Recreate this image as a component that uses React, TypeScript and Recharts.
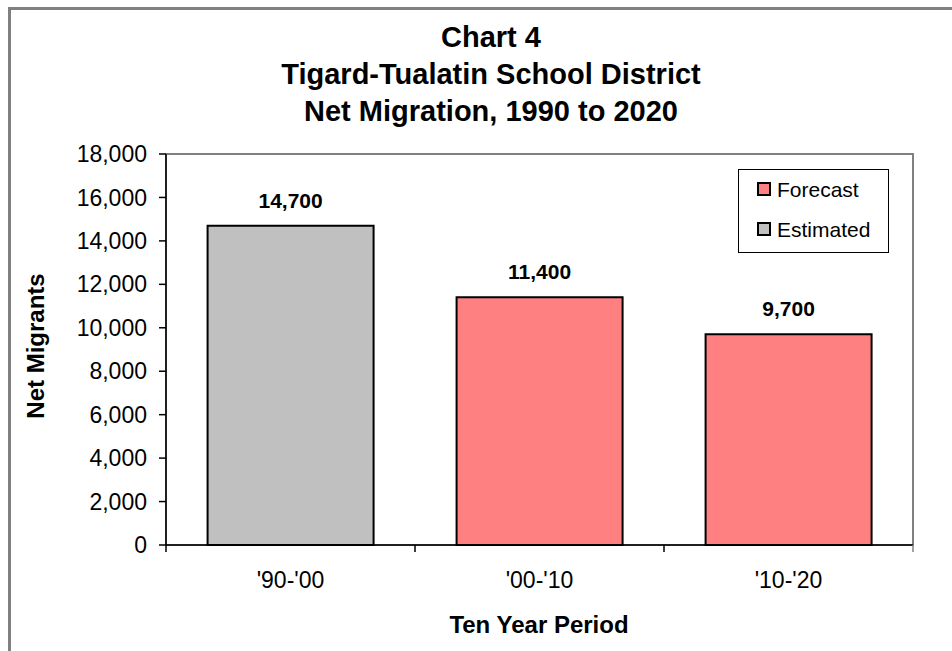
import React from 'react';
import { BarChart, Bar, XAxis, YAxis, Cell, LabelList, ReferenceArea, Customized } from 'recharts';

const categories = ["'90-'00", "'00-'10", "'10-'20"];
const netMigrants = [14700, 11400, 9700];
const periodTypes = ['Estimated', 'Forecast', 'Forecast'];
const legendOrder = ['Forecast', 'Estimated'];
const yTicks = [0, 2000, 4000, 6000, 8000, 10000, 12000, 14000, 16000, 18000];
const titleLines = ['Chart 4', 'Tigard-Tualatin School District', 'Net Migration, 1990 to 2020'];
const yAxisTitle = 'Net Migrants';
const xAxisTitle = 'Ten Year Period';

const typeColors: Record<string, string> = { Estimated: '#C0C0C0', Forecast: '#FF8080' };

const FONT = '"Liberation Sans", Arial, Helvetica, sans-serif';
const CHART_W = 952;
const CHART_H = 651;
const Y_AXIS_W = 166;
const MARGIN = { top: 154, right: 39, bottom: 66, left: 0 };
const X_AXIS_H = 40;

const chartData = categories.map((c, i) => ({ period: c, value: netMigrants[i], type: periodTypes[i] }));

const fmt = (v: any) => (v == null ? '' : Number(v).toLocaleString('en-US'));

const XTick = (props: any) => {
  const { x, y, payload, index } = props;
  const fallbackHalf = (CHART_W - Y_AXIS_W - MARGIN.right) / categories.length / 2;
  const half = payload && payload.offset ? payload.offset : fallbackHalf;
  const axisY = y - 7;
  return (
    <g>
      <line x1={x - half} x2={x - half} y1={axisY} y2={axisY + 7} stroke="#000" strokeWidth={1.5} />
      {index === categories.length - 1 && (
        <line x1={x + half} x2={x + half} y1={axisY} y2={axisY + 7} stroke="#808080" strokeWidth={1.5} />
      )}
      <text x={x} y={axisY + 43} textAnchor="middle" fontSize={23} fontFamily={FONT} fill="#000">
        {payload.value}
      </text>
    </g>
  );
};

const LEG = { x: 738, y: 169, w: 150, h: 83, row: 40 };

const TextLayer = () => (
  <g fontFamily={FONT} fill="#000">
    {titleLines.map((t, i) => (
      <text key={t} x={491} y={47 + i * 37} textAnchor="middle" fontSize={29} fontWeight="bold">
        {t}
      </text>
    ))}
    <text
      x={44}
      y={346}
      textAnchor="middle"
      fontSize={24}
      fontWeight="bold"
      transform="rotate(-90 44 346)"
    >
      {yAxisTitle}
    </text>
    <text x={539} y={633} textAnchor="middle" fontSize={24} fontWeight="bold">
      {xAxisTitle}
    </text>
    <g>
      <rect x={LEG.x + 0.5} y={LEG.y + 0.5} width={LEG.w} height={LEG.h} fill="#fff" stroke="#000" strokeWidth={1} />
      {legendOrder.map((name, i) => {
        const cy = LEG.y + 20 + i * LEG.row;
        return (
          <g key={name}>
            <rect x={LEG.x + 20} y={cy - 6} width={12} height={12} fill={typeColors[name]} stroke="#000" strokeWidth={2} />
            <text x={LEG.x + 39} y={cy + 7.5} fontSize={21} fill="#000">
              {name}
            </text>
          </g>
        );
      })}
    </g>
  </g>
);

export default function App() {
  return (
    <div>
      <div
        style={{
          position: 'fixed',
          left: 8,
          top: 7,
          width: 980,
          height: 700,
          borderLeft: '3px solid #808080',
          borderTop: '3px solid #808080',
          boxSizing: 'border-box',
          background: '#fff',
        }}
      />
      <div style={{ position: 'fixed', left: 0, top: 0, width: CHART_W, height: CHART_H }}>
        <BarChart
          width={CHART_W}
          height={CHART_H}
          data={chartData}
          margin={MARGIN}
          barCategoryGap="16.7%"
        >
          <ReferenceArea y1={0} y2={18000} fill="none" stroke="#808080" strokeWidth={2} ifOverflow="visible" />
          <XAxis
            dataKey="period"
            height={X_AXIS_H}
            tickLine={false}
            tickSize={7}
            tickMargin={0}
            axisLine={{ stroke: '#000', strokeWidth: 1.5 }}
            tick={<XTick />}
            interval={0}
          />
          <YAxis
            width={Y_AXIS_W}
            domain={[0, 18000]}
            ticks={yTicks}
            interval={0}
            tickFormatter={fmt}
            tickSize={7}
            tickMargin={12}
            tick={{ fontSize: 23, fill: '#000', fontFamily: FONT }}
            tickLine={{ stroke: '#000', strokeWidth: 1.5 }}
            axisLine={{ stroke: '#000', strokeWidth: 1.5 }}
          />
          <Bar dataKey="value" stroke="#000" strokeWidth={2} isAnimationActive={false}>
            {chartData.map((d) => (
              <Cell key={d.period} fill={typeColors[d.type]} />
            ))}
            <LabelList
              dataKey="value"
              position="top"
              offset={18}
              formatter={fmt}
              style={{ fontSize: 21, fontWeight: 'bold', fill: '#000', fontFamily: FONT }}
            />
          </Bar>
          <Customized component={TextLayer} />
        </BarChart>
      </div>
    </div>
  );
}
